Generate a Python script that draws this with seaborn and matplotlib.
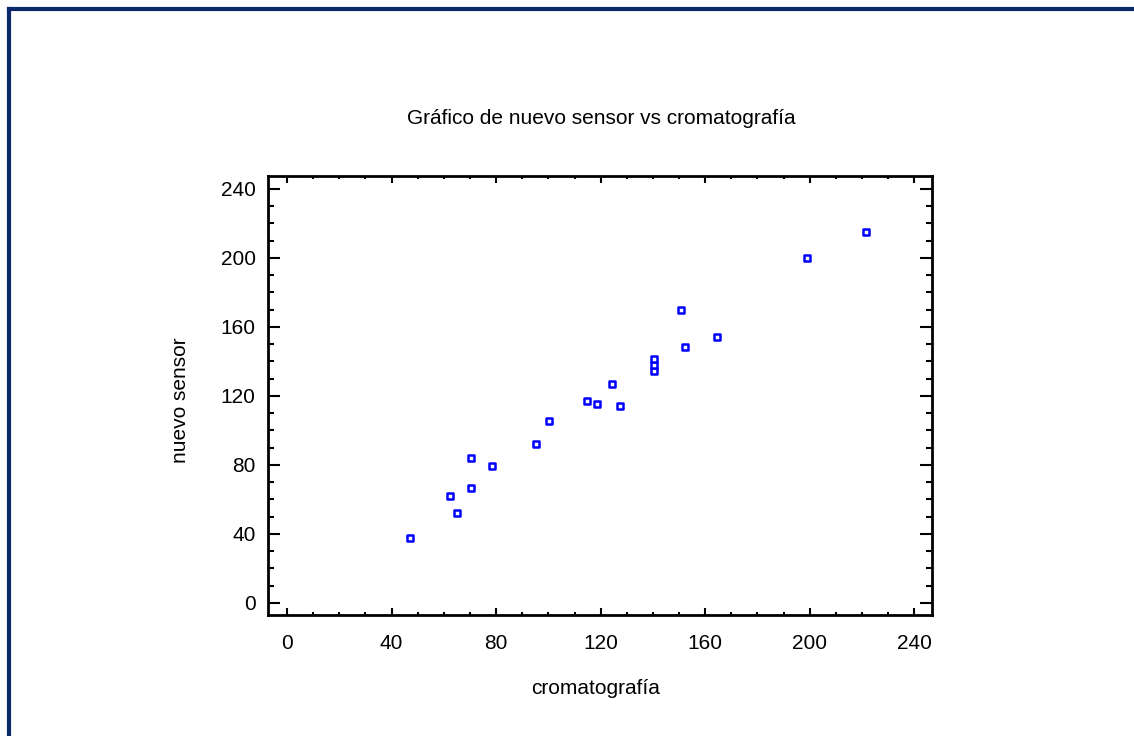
import matplotlib
matplotlib.use("Agg")
import matplotlib.pyplot as plt
import seaborn as sns
import pandas as pd
from matplotlib.ticker import MultipleLocator
from matplotlib.lines import Line2D

# Data
cromatografia = [47, 62.5, 65, 70.5, 70.5, 78.5, 95.3, 100.3, 114.6, 118.7,
                 127.5, 124.3, 140.4, 140.4, 140.4, 150.8, 152.4, 164.5, 198.9, 221.5]
nuevo_sensor = [37.5, 62, 52, 66.5, 84, 79.5, 92.3, 105.3, 116.9, 115.5,
                114, 127, 134.3, 138.1, 141.4, 170, 148.5, 154.2, 200, 215]
x_ticks = [0, 40, 80, 120, 160, 200, 240]
y_ticks = [0, 40, 80, 120, 160, 200, 240]

title_text = "Gráfico de nuevo sensor vs cromatografía"
x_label = "cromatografía"
y_label = "nuevo sensor"

df = pd.DataFrame({"cromatografía": cromatografia, "nuevo sensor": nuevo_sensor})

sns.set_style("white")
plt.rcParams['font.family'] = ['Liberation Sans', 'DejaVu Sans']
plt.rcParams['text.color'] = 'black'
plt.rcParams['xtick.color'] = 'black'
plt.rcParams['ytick.color'] = 'black'
plt.rcParams['xtick.labelcolor'] = 'black'
plt.rcParams['ytick.labelcolor'] = 'black'

fig = plt.figure(figsize=(11.34, 7.36), dpi=100)
ax = fig.add_axes([268 / 1134, 1 - 615 / 736, (932 - 268) / 1134, (615 - 176) / 736])

sns.scatterplot(data=df, x="cromatografía", y="nuevo sensor", ax=ax,
                marker="s", s=16, facecolor="white", edgecolor="#0000ff",
                linewidth=1.8, legend=False, zorder=3)

ax.set_xlim(-7.3, 246.8)
ax.set_ylim(-7, 247.5)
ax.set_xticks(x_ticks)
ax.set_yticks(y_ticks)
ax.xaxis.set_minor_locator(MultipleLocator(10))
ax.yaxis.set_minor_locator(MultipleLocator(10))

ax.tick_params(axis="x", which="major", direction="in", length=5, width=1.5,
               top=True, bottom=True, labelsize=15, pad=14)
ax.tick_params(axis="x", which="minor", direction="in", length=2.5, width=1.5,
               top=True, bottom=True)
ax.tick_params(axis="y", which="major", direction="in", length=8.5, width=1.5,
               left=True, right=True, labelsize=15, pad=9)
ax.tick_params(axis="y", which="minor", direction="in", length=4.5, width=1.5,
               left=True, right=True)

for sp in ax.spines.values():
    sp.set_visible(True)
    sp.set_color("black")
    sp.set_linewidth(2)

ax.set_xlabel("")
ax.set_ylabel("")
fig.text(596 / 1134, 1 - 688 / 736, x_label, ha="center", va="center", fontsize=15)
fig.text(180 / 1134, 1 - 400 / 736, y_label, ha="center", va="center",
         rotation=90, fontsize=15)
fig.text(601 / 1134, 1 - 118 / 736, title_text, ha="center", va="center", fontsize=15)

# Navy frame (left and top edges visible)
frame_col = "#0b2a6b"
fig.add_artist(Line2D([8.5 / 1134, 8.5 / 1134], [0, 1 - 8.5 / 736],
                      transform=fig.transFigure, color=frame_col, lw=3,
                      solid_capstyle="projecting"))
fig.add_artist(Line2D([8.5 / 1134, 1], [1 - 8.5 / 736, 1 - 8.5 / 736],
                      transform=fig.transFigure, color=frame_col, lw=3,
                      solid_capstyle="projecting"))

fig.savefig("out.png", dpi=100, facecolor="white")
